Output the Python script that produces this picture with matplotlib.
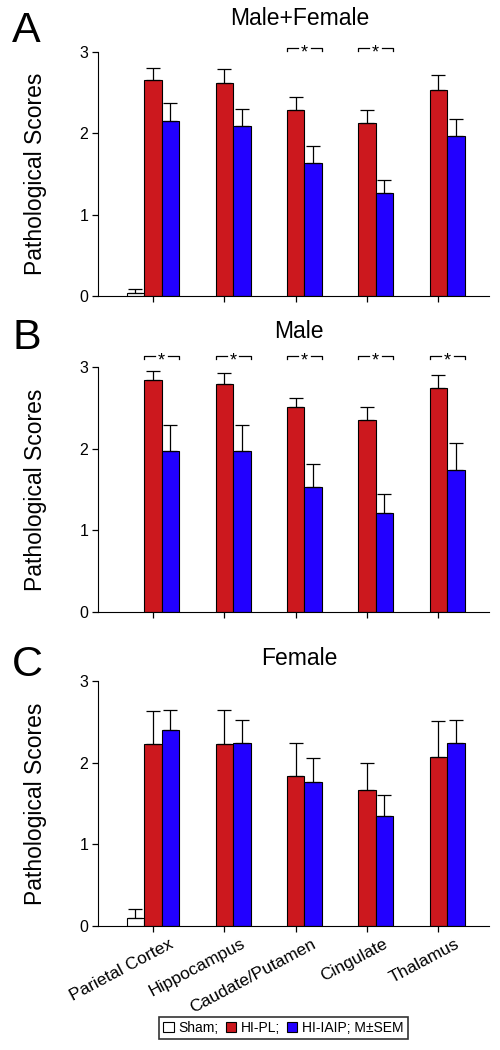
import numpy as np
import matplotlib
matplotlib.use("Agg")
import matplotlib.pyplot as plt
import matplotlib.transforms as mtransforms
from matplotlib.patches import Patch

plt.rcParams["font.family"] = ["Liberation Sans", "DejaVu Sans"]

regions = ["Parietal Cortex", "Hippocampus", "Caudate/Putamen", "Cingulate", "Thalamus"]

# Male+Female
a_sham, a_sham_sem = 0.04, 0.05
a_pl = [2.65, 2.62, 2.29, 2.13, 2.53]
a_pl_sem = [0.15, 0.17, 0.16, 0.16, 0.18]
a_iaip = [2.15, 2.09, 1.63, 1.27, 1.96]
a_iaip_sem = [0.22, 0.21, 0.21, 0.16, 0.22]
a_sig = [False, False, True, True, False]

# Male
b_sham, b_sham_sem = 0.0, 0.0
b_pl = [2.84, 2.80, 2.51, 2.36, 2.75]
b_pl_sem = [0.12, 0.13, 0.11, 0.15, 0.16]
b_iaip = [1.97, 1.97, 1.53, 1.21, 1.74]
b_iaip_sem = [0.32, 0.32, 0.29, 0.23, 0.33]
b_sig = [True, True, True, True, True]

# Female
c_sham, c_sham_sem = 0.10, 0.11
c_pl = [2.23, 2.23, 1.84, 1.67, 2.07]
c_pl_sem = [0.40, 0.42, 0.40, 0.33, 0.44]
c_iaip = [2.40, 2.24, 1.77, 1.35, 2.24]
c_iaip_sem = [0.25, 0.29, 0.29, 0.25, 0.29]
c_sig = [False, False, False, False, False]

red = "#cc181e"
blue = "#2200ff"
w = 0.245

fig = plt.figure(figsize=(5, 10.5), dpi=100)

panels = [
    ("A", "Male+Female", a_sham, a_sham_sem, a_pl, a_pl_sem, a_iaip, a_iaip_sem, a_sig,
     0.718, 3.05, 19, 0.96),
    ("B", "Male", b_sham, b_sham_sem, b_pl, b_pl_sem, b_iaip, b_iaip_sem, b_sig,
     0.4174, 3.14, 21, 1 - 349 / 1050),
    ("C", "Female", c_sham, c_sham_sem, c_pl, c_pl_sem, c_iaip, c_iaip_sem, c_sig,
     0.1184, 3.05, 12, 1 - 676 / 1050),
]

x = np.arange(len(regions))
for letter, title, sham, sham_sem, pl, pl_sem, iaip, iaip_sem, sig, bottom, sig_y, tpad, ly in panels:
    ax = fig.add_axes([0.196, bottom, 0.782, 0.2327])
    ek = dict(ecolor="black", elinewidth=0.9, capthick=0.9)
    if sham > 0:
        ax.bar(x[0] - w, sham, w, color="white", edgecolor="black", linewidth=0.8,
               yerr=[[0], [sham_sem]], capsize=5, error_kw=ek)
    ax.bar(x, pl, w, color=red, edgecolor="black", linewidth=0.8,
           yerr=[np.zeros(5), pl_sem], capsize=5, error_kw=ek)
    ax.bar(x + w, iaip, w, color=blue, edgecolor="black", linewidth=0.8,
           yerr=[np.zeros(5), iaip_sem], capsize=5, error_kw=ek)

    # significance brackets between HI-PL and HI-IAIP
    for i, s in enumerate(sig):
        if not s:
            continue
        x0 = x[i] - w / 2
        x1 = x[i] + 1.5 * w
        xm = x[i] + w / 2
        g = 0.09
        d = 0.035
        ax.plot([x0, x0, xm - g], [sig_y - d, sig_y, sig_y], color="black", lw=0.9, clip_on=False)
        ax.plot([xm + g, x1, x1], [sig_y, sig_y, sig_y - d], color="black", lw=0.9, clip_on=False)
        ax.text(xm, sig_y - 0.06, "*", ha="center", va="center", fontsize=13, clip_on=False)

    ax.set_xlim(-0.77, 4.71)
    ax.set_ylim(0, 3)
    ax.set_yticks([0, 1, 2, 3])
    ax.set_xticks(x)
    ax.spines["top"].set_visible(False)
    ax.spines["right"].set_visible(False)
    ax.tick_params(axis="y", direction="out", length=4, width=0.9, labelsize=11.5, pad=3)
    ax.tick_params(axis="x", direction="out", length=4, width=0.9)
    if letter == "C":
        ax.set_xticklabels(regions, rotation=28, ha="right", va="top",
                           rotation_mode="anchor", fontsize=12.5)
        shift = mtransforms.ScaledTranslation(0.16, 0, fig.dpi_scale_trans)
        for lab in ax.get_xticklabels():
            lab.set_transform(lab.get_transform() + shift)
    else:
        ax.set_xticklabels([])
    ax.set_ylabel("Pathological Scores", fontsize=16.5)
    ax.yaxis.set_label_coords(-0.13, 0.5)
    ax.set_title(title, fontsize=16.5, pad=tpad, x=0.515)
    fig.text(12 / 500, ly, letter, fontsize=31, va="baseline", ha="left")

handles = [
    Patch(facecolor="white", edgecolor="black", linewidth=0.8),
    Patch(facecolor=red, edgecolor="black", linewidth=0.8),
    Patch(facecolor=blue, edgecolor="black", linewidth=0.8),
]
leg = fig.legend(handles, ["Sham;", "HI-PL;", "HI-IAIP; M\u00b1SEM"], loc="center",
                 bbox_to_anchor=(0.567, 0.021), ncol=3, fontsize=10, frameon=True,
                 fancybox=False, edgecolor="black", handlelength=0.75, handleheight=0.75,
                 handletextpad=0.35, columnspacing=0.5, borderpad=0.3)
leg.get_frame().set_linewidth(1.2)

fig.savefig("out.png", dpi=100)
